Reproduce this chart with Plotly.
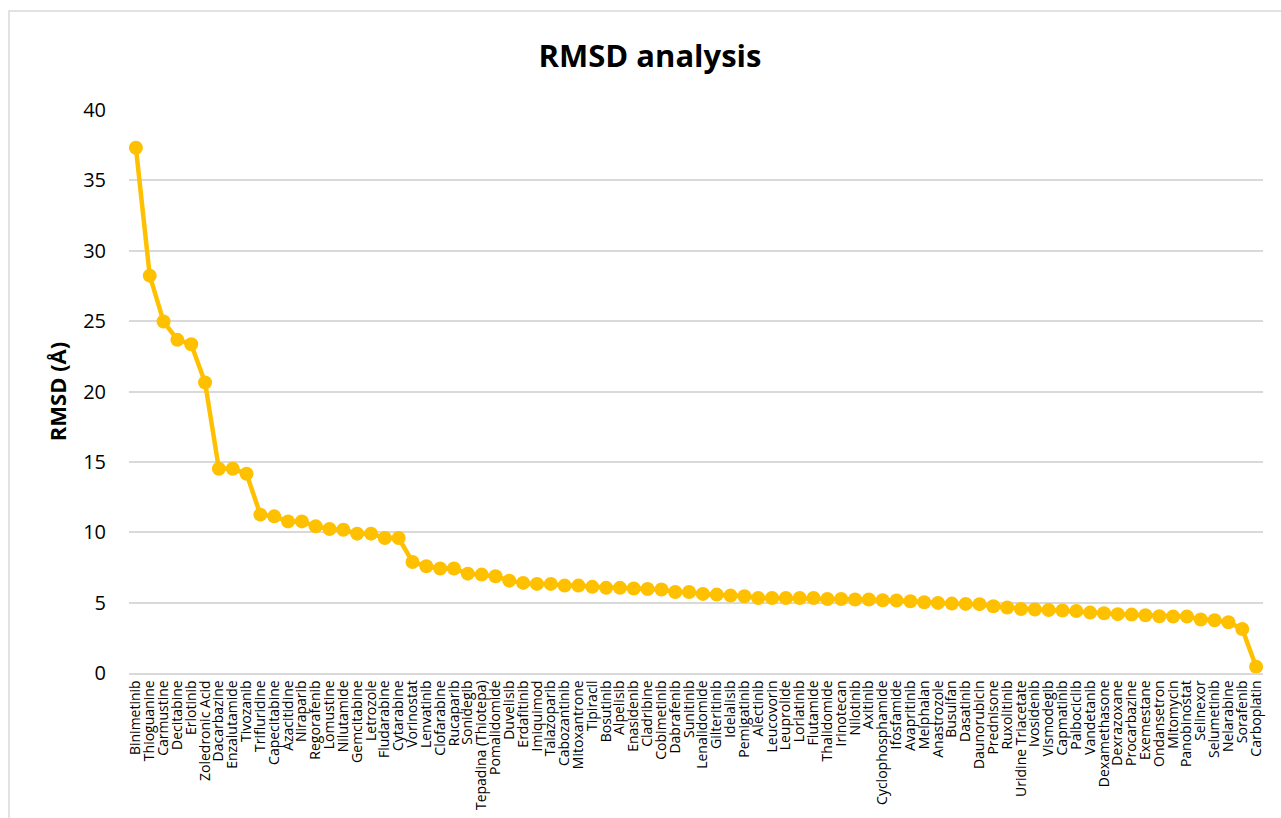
import plotly.graph_objects as go

drugs = [
    "Binimetinib", "Thioguanine", "Carmustine", "Decitabine", "Erlotinib",
    "Zoledronic Acid", "Dacarbazine", "Enzalutamide", "Tivozanib", "Trifluridine",
    "Capecitabine", "Azacitidine", "Niraparib", "Regorafenib", "Lomustine",
    "Nilutamide", "Gemcitabine", "Letrozole", "Fludarabine", "Cytarabine",
    "Vorinostat", "Lenvatinib", "Clofarabine", "Rucaparib", "Sonidegib",
    "Tepadina (Thiotepa)", "Pomalidomide", "Duvelisib", "Erdafitinib", "Imiquimod",
    "Talazoparib", "Cabozantinib", "Mitoxantrone", "Tipiracil", "Bosutinib",
    "Alpelisib", "Enasidenib", "Cladribine", "Cobimetinib", "Dabrafenib",
    "Sunitinib", "Lenalidomide", "Gilteritinib", "Idelalisib", "Pemigatinib",
    "Alectinib", "Leucovorin", "Leuprolide", "Lorlatinib", "Flutamide",
    "Thalidomide", "Irinotecan", "Nilotinib", "Axitinib", "Cyclophosphamide",
    "Ifosfamide", "Avapritinib", "Melphalan", "Anastrozole", "Busulfan",
    "Dasatinib", "Daunorubicin", "Prednisone", "Ruxolitinib", "Uridine Triacetate",
    "Ivosidenib", "Vismodegib", "Capmatinib", "Palbociclib", "Vandetanib",
    "Dexamethasone", "Dexrazoxane", "Procarbazine", "Exemestane", "Ondansetron",
    "Mitomycin", "Panobinostat", "Selinexor", "Selumetinib", "Nelarabine",
    "Sorafenib", "Carboplatin",
]

rmsd = [
    37.32, 28.23, 24.97, 23.67, 23.36, 20.64, 14.51, 14.51, 14.16, 11.25,
    11.13, 10.77, 10.77, 10.42, 10.23, 10.18, 9.90, 9.90, 9.59, 9.59,
    7.89, 7.58, 7.42, 7.42, 7.06, 6.99, 6.87, 6.56, 6.40, 6.33,
    6.33, 6.21, 6.21, 6.12, 6.05, 6.05, 6.00, 5.97, 5.93, 5.76,
    5.76, 5.62, 5.57, 5.50, 5.45, 5.33, 5.33, 5.33, 5.33, 5.33,
    5.26, 5.26, 5.22, 5.22, 5.17, 5.15, 5.10, 5.03, 4.98, 4.93,
    4.91, 4.89, 4.74, 4.65, 4.55, 4.51, 4.48, 4.44, 4.41, 4.29,
    4.25, 4.18, 4.15, 4.10, 4.03, 4.01, 4.01, 3.80, 3.75, 3.61,
    3.13, 0.44,
]

y_ticks = [0, 5, 10, 15, 20, 25, 30, 35, 40]

gold = "#FFC000"
grid = "#D9D9D9"

fig = go.Figure(
    go.Scatter(
        x=drugs,
        y=rmsd,
        mode="lines+markers",
        line=dict(color=gold, width=4.5),
        marker=dict(color=gold, size=14),
        cliponaxis=False,
        showlegend=False,
    )
)

fig.update_layout(
    width=1281,
    height=818,
    margin=dict(l=129, r=18, t=110, b=145),
    paper_bgcolor="white",
    plot_bgcolor="white",
    font=dict(family="Open Sans, sans-serif", color="#000000"),
    title=dict(
        text="<b>RMSD analysis</b>",
        x=650 / 1281,
        xanchor="center",
        y=1 - 56 / 818,
        yanchor="middle",
        font=dict(size=31, color="#000000", family="Open Sans, sans-serif"),
    ),
    xaxis=dict(
        type="category",
        range=[-0.5, len(drugs) - 0.5],
        tickmode="array",
        tickvals=drugs,
        ticktext=drugs,
        tickangle=-90,
        tickfont=dict(size=14, color="#000000"),
        automargin=False,
        showgrid=False,
        showline=True,
        linecolor=grid,
        linewidth=1.5,
        ticks="",
        zeroline=False,
    ),
    yaxis=dict(
        range=[0, 40],
        tickvals=y_ticks,
        tickfont=dict(size=20, color="#000000"),
        automargin=False,
        showgrid=True,
        gridcolor=grid,
        gridwidth=1.5,
        showline=False,
        zeroline=False,
        ticks="outside",
        ticklen=18,
        tickcolor="rgba(0,0,0,0)",
        title=dict(
            text="<b>RMSD (Å)</b>",
            font=dict(size=22, color="#000000"),
            standoff=10,
        ),
    ),
    shapes=[
        dict(
            type="rect",
            xref="paper",
            yref="paper",
            x0=(9 - 129) / 1134,
            x1=1.2,
            y0=-0.5,
            y1=1 + (110 - 11) / 563.5,
            line=dict(color=grid, width=1.5),
            fillcolor="rgba(0,0,0,0)",
            layer="below",
        )
    ],
)

fig.write_html("out.html")
